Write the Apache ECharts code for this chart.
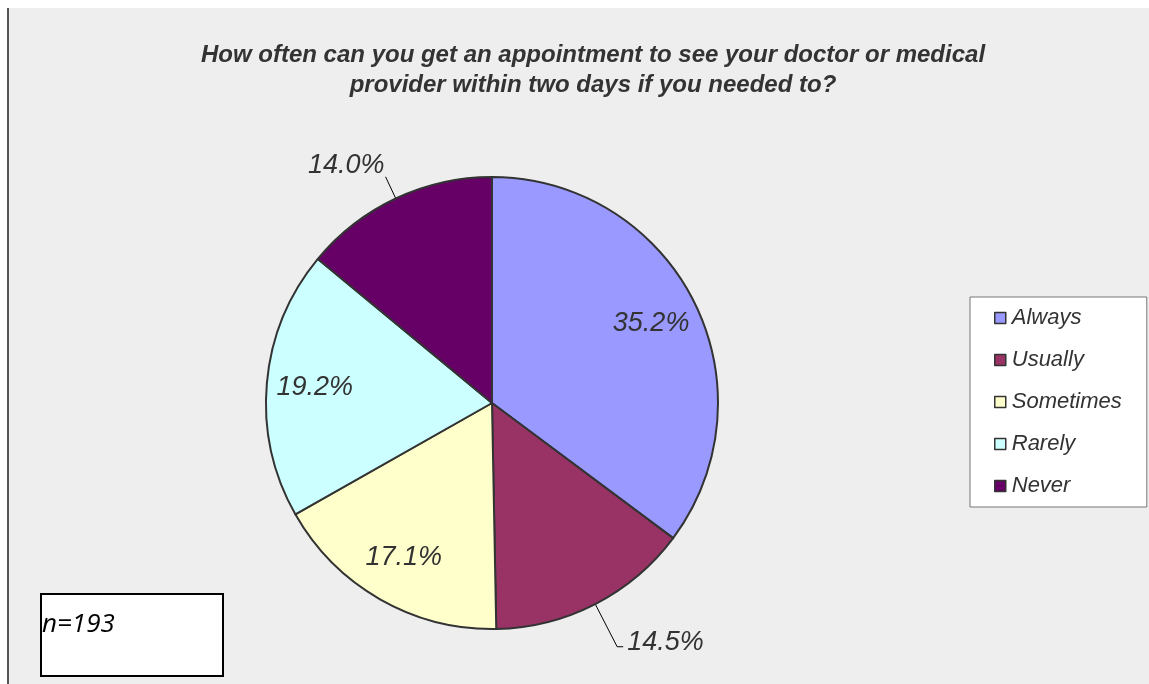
<!DOCTYPE html>
<html>
<head>
<meta charset="utf-8">
<style>
    html, body {margin: 0; padding: 0; background: #fff;}
    #chart-1 {width: 1149px; height: 684px;}
</style>
</head>
<body>
<div id="chart-1"></div>
<script src="https://cdn.jsdelivr.net/npm/echarts@6/dist/echarts.min.js"></script>
<script type="text/javascript">
    // data
    var categories = ['Always', 'Usually', 'Sometimes', 'Rarely', 'Never'];
    var percents = [35.2, 14.5, 17.1, 19.2, 14.0];
    var colors = ['#9999ff', '#993366', '#ffffcc', '#ccffff', '#660066'];
    // which slices carry their label inside the pie
    var insideLabel = [true, false, true, true, false];
    var sampleNote = 'n=193';

    var myChart = echarts.init(document.getElementById('chart-1'));

    var labelFont = {
        fontFamily: 'Liberation Sans, Arial, sans-serif',
        fontStyle: 'italic',
        fontSize: 27,
        color: '#333'
    };

    // main pie, outside labels only
    var mainData = categories.map(function (name, i) {
        var item = {
            name: name,
            value: percents[i],
            itemStyle: {color: colors[i]}
        };
        if (insideLabel[i]) {
            item.label = {show: false};
            item.labelLine = {show: false};
        } else if (i === 1) {
            item.labelLine = {length: 48, length2: 6};
            item.label = {distanceToLabelLine: 4};
        } else {
            item.labelLine = {length: 24, length2: 0};
            item.label = {distanceToLabelLine: 1};
        }
        return item;
    });

    // transparent copy, used only to set the inside labels a bit further out
    var labelData = categories.map(function (name, i) {
        return {
            name: name,
            value: percents[i],
            label: {show: insideLabel[i]}
        };
    });

    var option = {
        backgroundColor: '#fff',
        animation: false,
        title: {
            text: 'How often can you get an appointment to see your doctor or medical\nprovider within two days if you needed to?',
            left: 588,
            top: 35,
            textAlign: 'center',
            textStyle: {
                fontFamily: 'Liberation Sans Narrow, Arial Narrow, sans-serif',
                fontStyle: 'italic',
                fontWeight: 'bold',
                fontSize: 24,
                lineHeight: 30,
                color: '#333'
            }
        },
        legend: {
            orient: 'vertical',
            left: 970,
            top: 297,
            data: categories,
            icon: 'rect',
            itemWidth: 11,
            itemHeight: 11,
            itemGap: 20,
            padding: [10, 25, 10, 24],
            backgroundColor: '#fff',
            borderColor: '#777',
            borderWidth: 1,
            borderRadius: 0,
            itemStyle: {borderColor: '#333', borderWidth: 1.5},
            textStyle: {
                fontFamily: 'Liberation Sans, Arial, sans-serif',
                fontStyle: 'italic',
                fontSize: 22,
                color: '#333',
                padding: [0, 0, 0, 1]
            }
        },
        graphic: [
            {
                type: 'rect', z: -10, silent: true,
                shape: {x: 8, y: 8, width: 1141, height: 676},
                style: {fill: '#eeeeee'}
            },
            {
                type: 'line', z: -9, silent: true,
                shape: {x1: 8, y1: 8, x2: 8, y2: 684},
                style: {stroke: '#555', lineWidth: 2}
            },
            {
                type: 'rect', silent: true,
                shape: {x: 41, y: 594, width: 182, height: 82},
                style: {fill: '#fff', stroke: '#000', lineWidth: 2}
            },
            {
                type: 'text', silent: true,
                left: 42, top: 612,
                style: {
                    text: sampleNote,
                    font: 'italic 26px "Open Sans", "Noto Sans", sans-serif',
                    fill: '#000'
                }
            }
        ],
        series: [
            {
                name: 'main',
                type: 'pie',
                center: [492, 403],
                radius: 226,
                startAngle: 90,
                clockwise: true,
                itemStyle: {borderColor: '#333', borderWidth: 2},
                emphasis: {disabled: true},
                label: Object.assign({
                    show: true,
                    position: 'outside',
                    formatter: function (p) { return p.value.toFixed(1) + '%'; }
                }, labelFont),
                labelLine: {show: true, lineStyle: {color: '#000', width: 1}},
                // lift the outside labels a little above their line ends
                labelLayout: function (params) {
                    if (params.dataIndex === 4) return {dy: -11};
                    if (params.dataIndex === 1) return {dy: -4};
                    return {};
                },
                data: mainData
            },
            {
                name: 'labels',
                type: 'pie',
                center: [492, 403],
                radius: [0, 350],
                startAngle: 90,
                clockwise: true,
                silent: true,
                legendHoverLink: false,
                itemStyle: {color: 'rgba(0,0,0,0)', borderWidth: 0},
                emphasis: {disabled: true},
                label: Object.assign({
                    position: 'inside',
                    formatter: function (p) { return p.value.toFixed(1) + '%'; }
                }, labelFont),
                labelLine: {show: false},
                data: labelData
            }
        ]
    };
    myChart.setOption(option);
</script>
</body>
</html>
